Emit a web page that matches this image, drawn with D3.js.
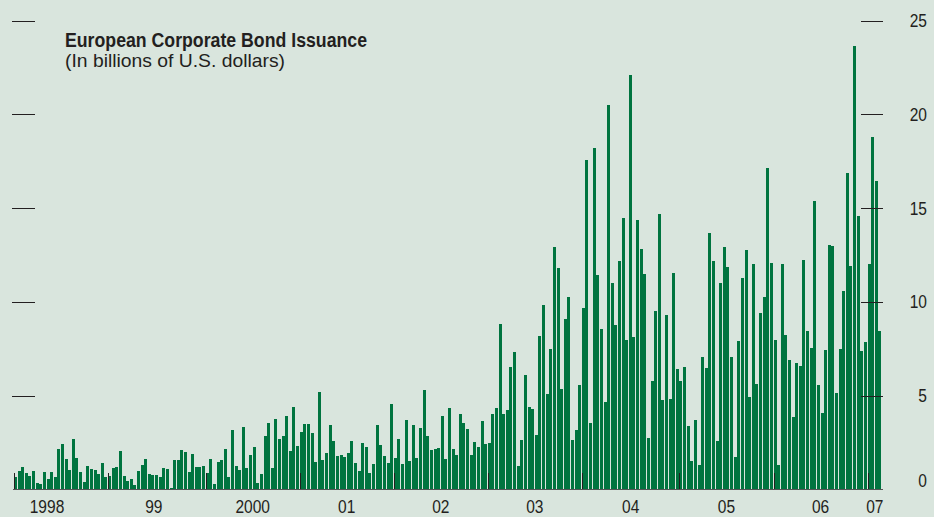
<!doctype html>
<html>
<head>
<meta charset="utf-8"/>
<title>European Corporate Bond Issuance</title>
<style>
html, body { margin:0; padding:0; background:#d9e5dd; }
svg { display:block; }
text { font-family:"Liberation Sans",Arial,sans-serif; fill:#231f20; }
</style>
<script src="https://d3js.org/d3.v7.min.js"></script>
</head>
<body>
<script>
// biweekly issuance, billions of US$, one array per year
var v1998 = [0.65,0.97,1.18,0.86,0.70,0.97,0.33,0.28,0.92,0.54,0.92,0.65,2.14,2.41,1.61,1.02,2.68,1.66,0.92,0.38,1.24,1.08,1.02,0.81,1.40,0.65];
var v1999 = [0.70,1.13,1.18,2.04,0.70,0.43,0.54,0.22,0.97,1.29,1.61,0.81,0.76,0.76,0.65,1.13,1.08,0.06,1.56,1.56,2.09,1.98,0.92,1.88,1.18,1.18,1.24];
var v2000 = [0.86,1.61,0.28,1.45,1.56,2.14,0.65,3.16,1.24,1.02,3.32,1.13,1.82,2.25,0.33,0.81,2.84,3.53,1.13,3.75,2.68,2.84,3.91,2.04,4.39,2.31];
var v2001 = [3.05,3.48,3.48,2.99,1.45,5.19,1.56,1.93,3.42,2.57,1.77,1.82,1.72,1.93,2.57,1.40,0.97,2.47,2.25,0.86,1.34,3.42,2.36,1.77,1.40,4.55];
var v2002 = [1.66,2.68,1.34,3.69,1.50,3.42,1.66,3.26,5.29,2.84,2.09,2.14,2.20,3.91,1.61,4.33,2.14,1.82,4.01,3.53,3.21,1.82,2.52,2.25,3.64,2.41];
var v2003 = [2.47,4.01,4.33,8.82,4.01,4.23,6.52,7.32,1.24,2.63,6.09,4.39,4.28,2.89,8.18,9.83,5.08,7.48,12.93,11.81,5.35,9.09,10.26,2.63,3.16,5.56];
var v2004 = [9.67,17.57,3.53,18.21,11.43,8.55,4.65,20.51,11.01,8.76,12.18,14.48,7.96,22.11,8.12,14.37,12.82,11.49,2.73,5.77,9.51,14.69,4.76,9.30,4.81,11.54,6.41];
var v2005 = [5.78,6.52,3.37,1.51,3.69,1.29,7.06,6.47,13.67,12.18,2.57,11.01,12.93,11.86,7.06,1.72,7.91,11.27,12.77,4.92,12.02,5.62,9.41,10.26,17.15,12.07];
var v2006 = [7.96,1.29,12.02,8.23,6.90,3.85,6.73,6.57,12.23,8.44,7.54,15.38,5.56,4.07,7.43,13.03,12.98,5.14,7.48,10.58,16.88,11.91,23.66,14.58,7.38,7.86];
var v2007 = [12.02,18.80,16.45,8.44];

var yearLabels = ["1998","99","2000","01","02","03","04","05","06","07"];
var yTicks = [0,5,10,15,20,25];

var years = [v1998,v1999,v2000,v2001,v2002,v2003,v2004,v2005,v2006,v2007];

// flatten, remember where each year starts
var bars = [];
var yearStart = [];
years.forEach(function(arr){
  yearStart.push(bars.length);
  arr.forEach(function(v){ bars.push(v); });
});
var nBars = bars.length;

var W = 934, H = 517;
var narrow = 0.84;   // condensed look
var svg = d3.select("body").append("svg").attr("width", W).attr("height", H);

svg.append("rect").attr("width", W).attr("height", H).attr("fill", "#d9e5dd");

var x = d3.scaleLinear().domain([0, nBars]).range([14, 882]);
var y = d3.scaleLinear().domain([0, 25]).range([489.2, 20.7]);
var bw = (x(1) - x(0)) * 0.83;

// bars
svg.append("g")
  .selectAll("rect")
  .data(bars)
  .enter()
  .append("rect")
  .attr("x", function(d,i){ return x(i); })
  .attr("y", function(d){ return y(d); })
  .attr("width", bw)
  .attr("height", function(d){ return y(0) - y(d); })
  .attr("fill", "#00743f")
  .attr("shape-rendering", "crispEdges");

// left and right tick marks
var gt = yTicks.filter(function(t){ return t > 0; });
svg.append("g").selectAll("line")
  .data(gt).enter().append("line")
  .attr("x1", 12).attr("x2", 35)
  .attr("y1", function(d){ return Math.round(y(d)) + 0.5; })
  .attr("y2", function(d){ return Math.round(y(d)) + 0.5; })
  .attr("stroke", "#231f20").attr("stroke-width", 1);
svg.append("g").selectAll("line")
  .data(gt).enter().append("line")
  .attr("x1", 861).attr("x2", 883)
  .attr("y1", function(d){ return Math.round(y(d)) + 0.5; })
  .attr("y2", function(d){ return Math.round(y(d)) + 0.5; })
  .attr("stroke", "#231f20").attr("stroke-width", 1);

// right labels
svg.append("g").selectAll("text")
  .data(yTicks).enter().append("text")
  .attr("transform", function(d){
    var yy = d == 0 ? y(d) - 9 : y(d);
    return "translate(927," + (yy + 6.6) + ") scale(" + narrow + ",1)";
  })
  .attr("text-anchor", "end")
  .attr("font-size", 18.5)
  .text(function(d){ return d; });

// baseline
svg.append("line")
  .attr("x1", 13).attr("x2", 883)
  .attr("y1", 489.5).attr("y2", 489.5)
  .attr("stroke", "#555").attr("stroke-width", 1.2);

// year ticks
svg.append("g").selectAll("line")
  .data(yearStart).enter().append("line")
  .attr("x1", function(d){ return Math.round(x(d)) + 0.5; })
  .attr("x2", function(d){ return Math.round(x(d)) + 0.5; })
  .attr("y1", 473).attr("y2", 489)
  .attr("stroke", "#231f20").attr("stroke-width", 1);

// year labels, centred on each year (first one sits nearer the axis start)
svg.append("g").selectAll("text")
  .data(yearLabels).enter().append("text")
  .attr("transform", function(d,i){
    var a = yearStart[i];
    var b = i + 1 < yearStart.length ? yearStart[i+1] : nBars;
    var cx = (x(a) + x(b)) / 2;
    if (i == 0) cx = x(a) + 33;
    if (i == 1) cx -= 3;
    return "translate(" + cx + ",513) scale(" + narrow + ",1)";
  })
  .attr("text-anchor", "middle")
  .attr("font-size", 18.5)
  .text(function(d){ return d; });

// title
svg.append("text")
  .attr("x", 65).attr("y", 47)
  .attr("font-size", 19.5)
  .attr("font-weight", "bold")
  .attr("textLength", 302)
  .attr("lengthAdjust", "spacingAndGlyphs")
  .text("European Corporate Bond Issuance");
svg.append("text")
  .attr("x", 65).attr("y", 67)
  .attr("font-size", 18.5)
  .attr("textLength", 220)
  .attr("lengthAdjust", "spacingAndGlyphs")
  .text("(In billions of U.S. dollars)");
</script>
</body>
</html>
